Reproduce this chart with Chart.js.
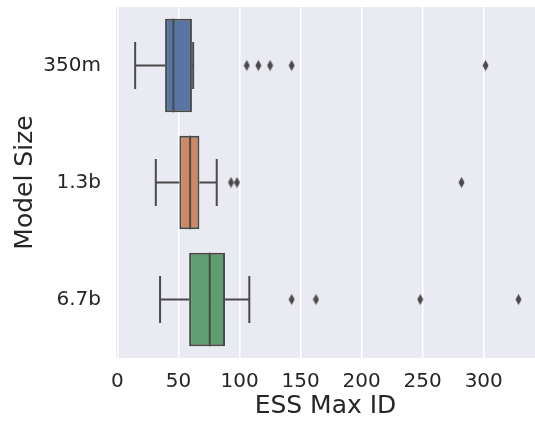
<!DOCTYPE html>
<html>
<head>
<meta charset="utf-8">
<script src="https://cdn.jsdelivr.net/npm/chart.js@4.4.0/dist/chart.umd.min.js"></script>
<style>
  html, body { margin: 0; padding: 0; background: #fff; }
</style>
</head>
<body>
<canvas id="essChart" width="535" height="421"></canvas>
<script>
// data
const modelSizes = ['350m', '1.3b', '6.7b'];
const whiskerLow = [14.5, 31.4, 34.9];
const q1 = [39, 50.7, 58.7];
const medians = [45.8, 59.5, 75.6];
const q3 = [61, 67.1, 88.1];
const whiskerHigh = [62, 81.3, 108];
const outliers350m = [105.9, 115.4, 125, 142.7, 301.5];
const outliers13b = [93, 97.9, 281.8];
const outliers67b = [142.7, 162.6, 248, 328.5];
const xTickStep = 50;

const boxColors = ['#5975a4', '#cc8963', '#5f9e6e'];
const lineColor = '#4a4a4a';
const textColor = '#262626';

const outlierPoints = [];
[outliers350m, outliers13b, outliers67b].forEach((list, i) => {
    list.forEach(v => outlierPoints.push({ x: v, y: modelSizes[i] }));
});

// seaborn-like thin diamond marker
function thinDiamond() {
    const c = document.createElement('canvas');
    c.width = 7;
    c.height = 12;
    const g = c.getContext('2d');
    g.fillStyle = lineColor;
    g.beginPath();
    g.moveTo(3.5, 0.5);
    g.lineTo(6.5, 6);
    g.lineTo(3.5, 11.5);
    g.lineTo(0.5, 6);
    g.closePath();
    g.fill();
    return c;
}

const plotBackground = {
    id: 'plotBackground',
    beforeDraw(chart) {
        const { ctx, chartArea: a } = chart;
        ctx.save();
        ctx.fillStyle = '#eaeaf2';
        ctx.fillRect(a.left, a.top, a.right - a.left, a.bottom - a.top);
        ctx.restore();
    }
};

// whiskers, caps and medians, placed with the chart's scales
const boxExtras = {
    id: 'boxExtras',
    afterDatasetsDraw(chart) {
        const { ctx, scales } = chart;
        const bars = chart.getDatasetMeta(0).data;
        ctx.save();
        ctx.strokeStyle = lineColor;
        ctx.lineWidth = 2;
        modelSizes.forEach((label, i) => {
            const y = scales.y.getPixelForValue(i);
            const half = bars[i].height / 2;
            const cap = half / 2;
            const xLo = scales.x.getPixelForValue(whiskerLow[i]);
            const xQ1 = scales.x.getPixelForValue(q1[i]);
            const xQ3 = scales.x.getPixelForValue(q3[i]);
            const xHi = scales.x.getPixelForValue(whiskerHigh[i]);
            const xMed = scales.x.getPixelForValue(medians[i]);
            ctx.beginPath();
            ctx.moveTo(xLo, y); ctx.lineTo(xQ1, y);
            ctx.moveTo(xQ3, y); ctx.lineTo(xHi, y);
            ctx.moveTo(xLo, y - cap); ctx.lineTo(xLo, y + cap);
            ctx.moveTo(xHi, y - cap); ctx.lineTo(xHi, y + cap);
            ctx.moveTo(xMed, y - half); ctx.lineTo(xMed, y + half);
            ctx.stroke();
        });
        ctx.restore();
    }
};

const essChart = new Chart(document.getElementById('essChart'), {
    type: 'bar',
    data: {
        labels: modelSizes,
        datasets: [
            {
                data: q1.map((v, i) => [v, q3[i]]),
                backgroundColor: boxColors,
                borderColor: lineColor,
                borderWidth: 2,
                borderSkipped: false,
                barPercentage: 0.8,
                categoryPercentage: 1
            },
            {
                type: 'scatter',
                data: outlierPoints,
                pointStyle: thinDiamond(),
                pointRadius: 6,
                pointHoverRadius: 6
            }
        ]
    },
    options: {
        indexAxis: 'y',
        responsive: false,
        animation: false,
        layout: { autoPadding: false, padding: { top: 7, right: 0, bottom: 0, left: 0 } },
        plugins: {
            legend: { display: false },
            tooltip: { enabled: false }
        },
        scales: {
            x: {
                type: 'linear',
                min: -1.2,
                max: 342,
                border: { display: false },
                grid: { color: '#ffffff', lineWidth: 1.5, drawTicks: false },
                ticks: {
                    stepSize: xTickStep,
                    includeBounds: false,
                    padding: 12,
                    color: textColor,
                    font: { family: 'DejaVu Sans', size: 20 }
                },
                title: {
                    display: true,
                    text: 'ESS Max ID',
                    color: textColor,
                    padding: { top: 0, bottom: 0 },
                    font: { family: 'DejaVu Sans', size: 25 }
                },
                afterFit(scale) {
                    scale.height = 63;
                    scale.paddingLeft = 0;
                    scale.paddingRight = 0;
                }
            },
            y: {
                type: 'category',
                offset: true,
                border: { display: false },
                grid: { display: false, drawTicks: false },
                ticks: {
                    padding: 15,
                    color: textColor,
                    font: { family: 'DejaVu Sans', size: 20 }
                },
                title: {
                    display: true,
                    text: 'Model Size',
                    color: textColor,
                    padding: { top: 10, bottom: 0 },
                    font: { family: 'DejaVu Sans', size: 25 }
                },
                afterFit(scale) {
                    scale.width = 116;
                    scale.paddingTop = 0;
                    scale.paddingBottom = 0;
                }
            }
        }
    },
    plugins: [plotBackground, boxExtras]
});
</script>
</body>
</html>
